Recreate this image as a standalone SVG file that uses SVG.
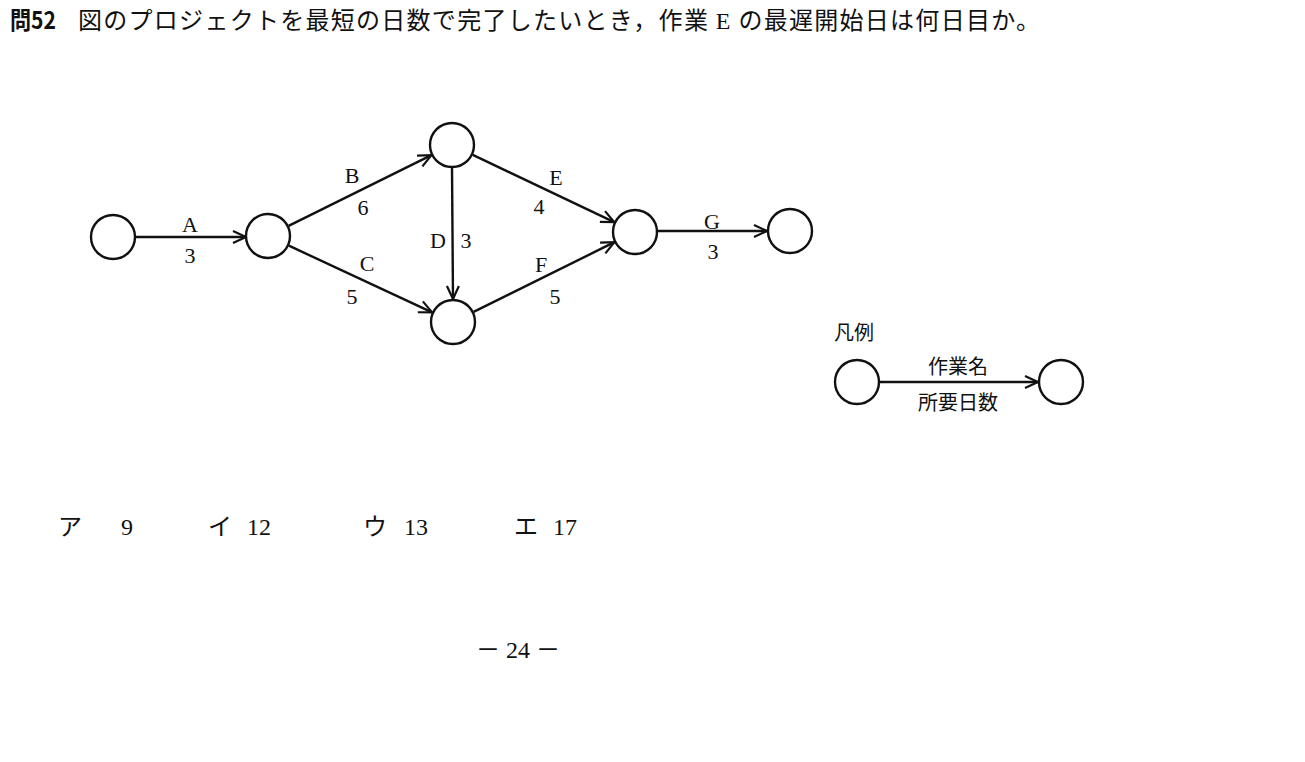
<svg xmlns="http://www.w3.org/2000/svg" width="1305" height="762" viewBox="0 0 1305 762">
<style>
.n{fill:none;stroke:#111;stroke-width:2.4}
.e{fill:none;stroke:#111;stroke-width:2.4;marker-end:url(#ah)}
.lb{font-family:"Liberation Serif","Noto Serif CJK JP",serif;font-size:22px;fill:#111;text-anchor:middle}
.jp{font-family:"Noto Sans CJK JP",sans-serif;font-size:20px;fill:#111}
.ans{font-family:"Liberation Serif","Noto Sans CJK JP",serif;font-size:24px;fill:#111}
</style>
<defs>
<marker id="ah" viewBox="0 0 16 16" refX="15" refY="8" markerWidth="16" markerHeight="16" markerUnits="userSpaceOnUse" orient="auto">
<path d="M2,2 L15,8 L2,14" fill="none" stroke="#111" stroke-width="2.2"/>
</marker>
</defs>
<rect width="1305" height="762" fill="#fff"/>
<text x="10" y="29" font-family="'Noto Sans CJK JP',sans-serif" font-size="24" fill="#111"><tspan font-weight="bold" textLength="46" lengthAdjust="spacingAndGlyphs">問52</tspan><tspan x="78" textLength="962" lengthAdjust="spacing">図のプロジェクトを最短の日数で完了したいとき，作業 <tspan font-family="'Liberation Serif',serif">E</tspan> の最遅開始日は何日目か。</tspan></text>
<g id="connectors">
<line class="e" x1="135" y1="237" x2="246" y2="237"/>
<line class="e" x1="288.6" y1="225.8" x2="431.4" y2="155.2"/>
<line class="e" x1="288.9" y1="245.7" x2="432.1" y2="312.3"/>
<line class="e" x1="452" y1="168" x2="453" y2="299"/>
<line class="e" x1="472.8" y1="154.9" x2="614.2" y2="222.1"/>
<line class="e" x1="473.6" y1="311.8" x2="614.4" y2="242.2"/>
<line class="e" x1="658" y1="231" x2="767" y2="231"/>
<line class="e" x1="880" y1="382" x2="1038" y2="382"/>
<text class="lb" x="190" y="232">A</text>
<text class="lb" x="190" y="263">3</text>
<text class="lb" x="352" y="183">B</text>
<text class="lb" x="363" y="215">6</text>
<text class="lb" x="367" y="271">C</text>
<text class="lb" x="352" y="304">5</text>
<text class="lb" x="438" y="248">D</text>
<text class="lb" x="466" y="248">3</text>
<text class="lb" x="556" y="185">E</text>
<text class="lb" x="539" y="214">4</text>
<text class="lb" x="541" y="272">F</text>
<text class="lb" x="555" y="304">5</text>
<text class="lb" x="712" y="229">G</text>
<text class="lb" x="713" y="259">3</text>
</g>
<g id="n1"><circle class="n" cx="113" cy="237" r="22"/></g>
<g id="n2"><circle class="n" cx="268" cy="236" r="22"/></g>
<g id="n3"><circle class="n" cx="452" cy="145" r="22"/></g>
<g id="n4"><circle class="n" cx="453" cy="322" r="22"/></g>
<g id="n5"><circle class="n" cx="635" cy="232" r="22"/></g>
<g id="n6"><circle class="n" cx="790" cy="231" r="22"/></g>
<g id="legend">
<text class="jp" x="834" y="340">凡例</text>
<circle class="n" cx="857" cy="382" r="22"/>
<circle class="n" cx="1061" cy="382" r="22"/>
<text class="jp" x="958" y="374" text-anchor="middle">作業名</text>
<text class="jp" x="958" y="410" text-anchor="middle">所要日数</text>
</g>
<g id="answers">
<text class="ans" x="58" y="535">ア</text><text class="ans" x="121" y="535">9</text>
<text class="ans" x="208" y="535">イ</text><text class="ans" x="247" y="535">12</text>
<text class="ans" x="363" y="535">ウ</text><text class="ans" x="404" y="535">13</text>
<text class="ans" x="514" y="535">エ</text><text class="ans" x="553" y="535">17</text>
</g>
<text class="ans" x="518" y="658" text-anchor="middle">－ 24 －</text>
</svg>
